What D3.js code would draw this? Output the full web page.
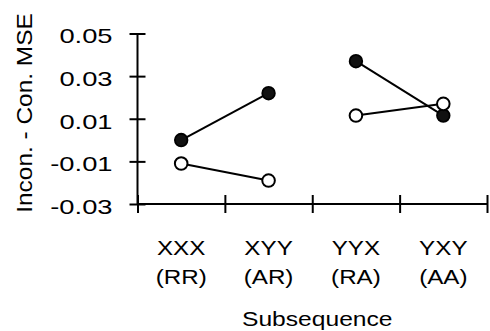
<!DOCTYPE html>
<html>
<head>
<meta charset="utf-8">
<script src="https://cdn.jsdelivr.net/npm/d3@7"></script>
<style>
  body { margin: 0; background: #fff; }
  text { font-family: "Liberation Sans", Arial, Helvetica, sans-serif; fill: #000; }
</style>
</head>
<body>
<svg class="chart"></svg>
<script>
// data
var seqLabels = ["XXX", "XYY", "YYX", "YXY"];
var ruleLabels = ["(RR)", "(AR)", "(RA)", "(AA)"];
var filledValues = [0.000, 0.022, 0.037, 0.0115];
var openValues = [-0.011, -0.019, 0.0115, 0.017];
var yTicks = [-0.03, -0.01, 0.01, 0.03, 0.05];
var pairs = [[0, 1], [2, 3]];

var width = 490, height = 331;
var margin = {top: 33.5, right: 3, bottom: 127, left: 137.5};
var w = width - margin.left - margin.right,
    h = height - margin.top - margin.bottom;

var svg = d3.select(".chart")
    .attr("width", width)
    .attr("height", height);

var chart = svg.append("g")
    .attr("transform", "translate(" + margin.left + "," + margin.top + ")");

var x = d3.scaleBand()
    .domain(seqLabels)
    .range([0, w]);

var xEdge = d3.scaleLinear()
    .domain([0, seqLabels.length])
    .range([0, w]);

var y = d3.scaleLinear()
    .domain([-0.03, 0.05])
    .range([h, 0]);

// stretch text horizontally like the original
function stretch(sel, k) {
  sel.each(function() {
    var len = this.getComputedTextLength();
    d3.select(this)
      .attr("textLength", len * k)
      .attr("lengthAdjust", "spacingAndGlyphs");
  });
}

// y axis
var yAxis = d3.axisLeft(y)
    .tickValues(yTicks)
    .tickSize(8)
    .tickFormat(function(d) { return d.toFixed(2); });

var gy = chart.append("g").call(yAxis);
gy.select(".domain").remove();
gy.append("line")
    .attr("x1", 0).attr("x2", 0)
    .attr("y1", y(0.05)).attr("y2", h)
    .attr("stroke", "#000").attr("stroke-width", 2);
gy.selectAll(".tick line")
    .attr("x1", 8).attr("x2", -8)
    .attr("stroke", "#000").attr("stroke-width", 2);
gy.selectAll(".tick text")
    .attr("x", -25)
    .attr("dy", "0.45em")
    .style("font-size", "21px")
    .style("font-family", null);
stretch(gy.selectAll(".tick text"), 1.3);

// x axis (ticks on band edges)
var xAxis = d3.axisBottom(xEdge)
    .tickValues(d3.range(seqLabels.length + 1))
    .tickSize(9)
    .tickFormat("");

var gx = chart.append("g")
    .attr("transform", "translate(0," + h + ")")
    .call(xAxis);
gx.select(".domain").remove();
gx.append("line")
    .attr("x1", 0).attr("x2", w)
    .attr("stroke", "#000").attr("stroke-width", 2);
gx.selectAll(".tick line")
    .attr("y1", -9).attr("y2", 9)
    .attr("stroke", "#000").attr("stroke-width", 2);

// category labels
var labels = chart.append("g")
    .attr("transform", "translate(0," + h + ")")
    .selectAll(".cat")
    .data(seqLabels)
  .enter().append("g")
    .attr("transform", function(d) { return "translate(" + (x(d) + x.bandwidth() / 2) + ",0)"; });

labels.append("text")
    .attr("y", 50.5)
    .attr("text-anchor", "middle")
    .style("font-size", "20.5px")
    .text(function(d) { return d; });

labels.append("text")
    .attr("y", 79.5)
    .attr("text-anchor", "middle")
    .style("font-size", "20.5px")
    .text(function(d, i) { return ruleLabels[i]; });
stretch(labels.selectAll("text"), 1.18);

// axis titles
var xt = chart.append("text")
    .attr("x", w / 2 + 5)
    .attr("y", h + 122)
    .attr("text-anchor", "middle")
    .style("font-size", "20.5px")
    .text("Subsequence");
stretch(xt, 1.2);

var yt = svg.append("text")
    .attr("transform", "translate(32,113) rotate(-90)")
    .attr("text-anchor", "middle")
    .style("font-size", "22px")
    .text("Incon. - Con. MSE");
stretch(yt, 1.11);

// connecting lines
var cx = function(i) { return x(seqLabels[i]) + x.bandwidth() / 2; };

[filledValues, openValues].forEach(function(vals) {
  chart.selectAll(null)
      .data(pairs)
    .enter().append("line")
      .attr("x1", function(p) { return cx(p[0]); })
      .attr("y1", function(p) { return y(vals[p[0]]); })
      .attr("x2", function(p) { return cx(p[1]); })
      .attr("y2", function(p) { return y(vals[p[1]]); })
      .attr("stroke", "#000")
      .attr("stroke-width", 2);
});

// points
chart.selectAll(".filled")
    .data(filledValues)
  .enter().append("circle")
    .attr("class", "filled")
    .attr("cx", function(d, i) { return cx(i); })
    .attr("cy", function(d) { return y(d); })
    .attr("r", 6.3)
    .attr("fill", "#111")
    .attr("stroke", "#000")
    .attr("stroke-width", 1.8);

chart.selectAll(".open")
    .data(openValues)
  .enter().append("circle")
    .attr("class", "open")
    .attr("cx", function(d, i) { return cx(i); })
    .attr("cy", function(d) { return y(d); })
    .attr("r", 6.3)
    .attr("fill", "#fff")
    .attr("stroke", "#000")
    .attr("stroke-width", 2);
</script>
</body>
</html>
